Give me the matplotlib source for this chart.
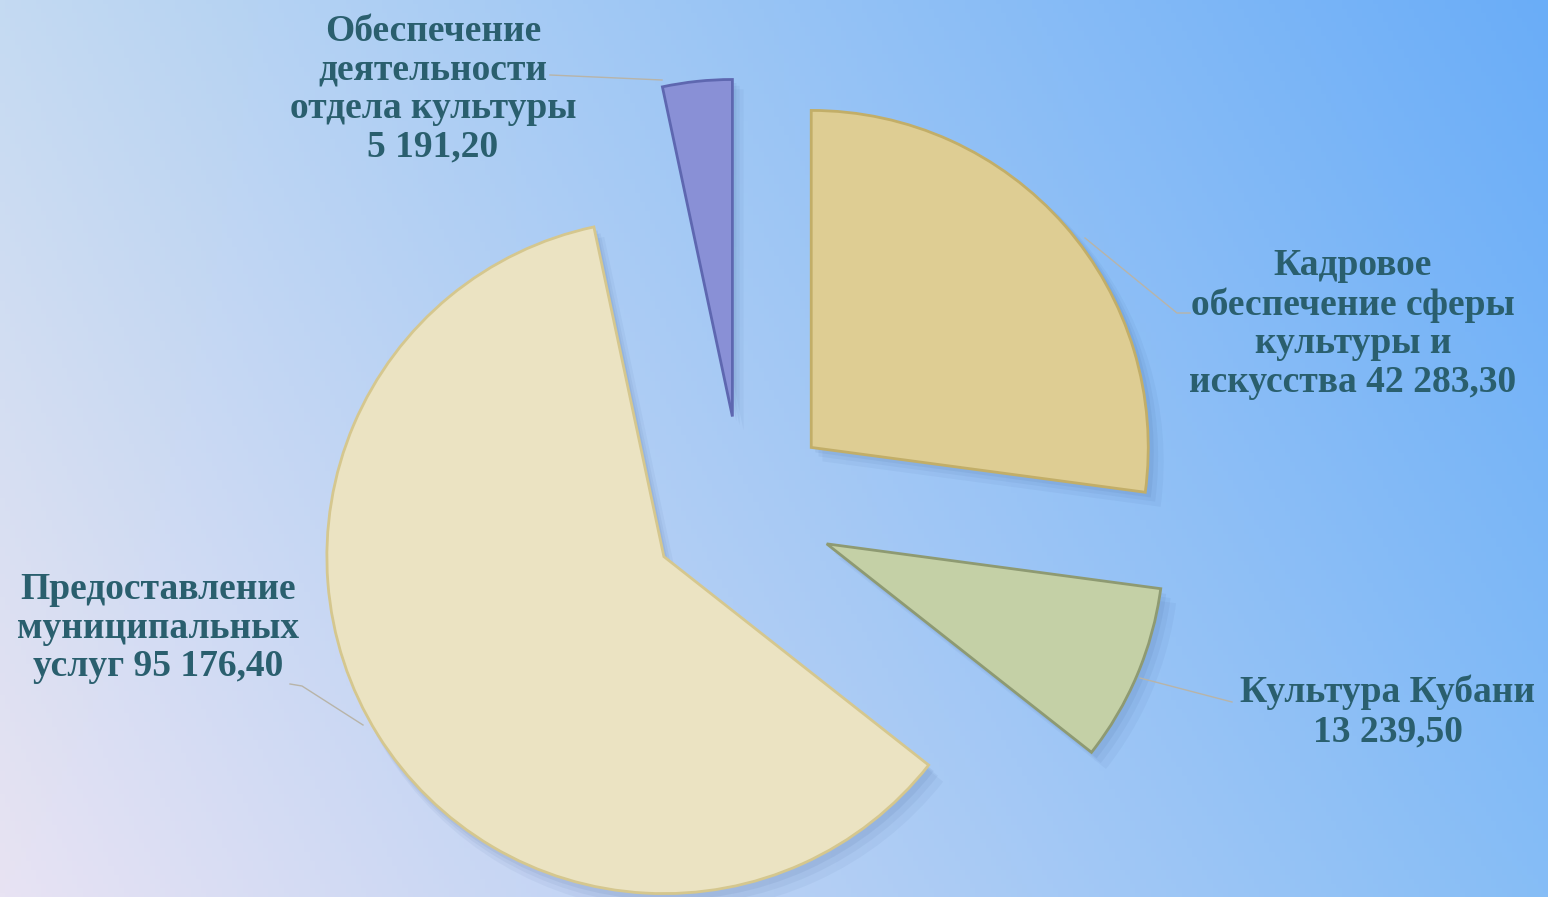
import numpy as np
import matplotlib.pyplot as plt
from matplotlib.colors import to_rgb

W, H = 1548, 897

# data: clockwise from 12 o'clock
names = ["Кадровое\nобеспечение сферы\nкультуры и\nискусства 42 283,30",
         "Культура Кубани\n13 239,50",
         "Предоставление\nмуниципальных\nуслуг 95 176,40",
         "Обеспечение\nдеятельности\nотдела культуры\n5 191,20"]
values = [42283.30, 13239.50, 95176.40, 5191.20]
colors = ["#DECD93", "#C4D0A6", "#EBE3C2", "#8990D6"]
edges = ["#C2AE68", "#8E9A72", "#D5C78E", "#5E67B0"]

fig = plt.figure(figsize=(W / 100, H / 100), dpi=100)
ax = fig.add_axes([0, 0, 1, 1])

# background gradient (bilinear between corner colours)
tl, tr = np.array(to_rgb("#C4DAF2")), np.array(to_rgb("#6AADF8"))
bl, br = np.array(to_rgb("#E8E3F3")), np.array(to_rgb("#86BDF6"))
u = np.linspace(0, 1, 300)[None, :, None]
v = np.linspace(0, 1, 200)[:, None, None]  # 0 = bottom
grad = (1 - v) * ((1 - u) * bl + u * br) + v * ((1 - u) * tl + u * tr)
ax.imshow(grad, extent=[0, W, 0, H], origin="lower", aspect="auto", zorder=0)

cx, cy, r = 742, H - 508, 337
# explode is in data units (pixels here)
expl = [92, 92, 92, 92]

# soft shadow
for k, a in [(14, 0.05), (9, 0.06), (5, 0.07)]:
    sh, _ = ax.pie(values, startangle=90, counterclock=False, explode=expl,
                   center=(cx + k * 0.8, cy - k), radius=r + k * 0.3,
                   colors=["#2A4A80"] * 4, wedgeprops=dict(linewidth=0))
    for w in sh:
        w.set_alpha(a)
        w.set_zorder(1)

wedges, _ = ax.pie(values, startangle=90, counterclock=False, explode=expl,
                   center=(cx, cy), radius=r, colors=colors,
                   wedgeprops=dict(linewidth=2))
for w, ec in zip(wedges, edges):
    w.set_edgecolor(ec)
    w.set_zorder(2)

ax.set_xlim(0, W)
ax.set_ylim(0, H)
ax.set_aspect("auto")
ax.axis("off")

txt = dict(ha="center", va="center", color="#2A5F6E", fontsize=27,
           fontweight="bold", family="Liberation Serif", linespacing=1.13, zorder=4)

label_pos = [(1353, H - 324), (1388, H - 712), (158, H - 628), (433, H - 89)]
for name, (x, y) in zip(names, label_pos):
    ax.text(x, y, name, **txt)

leaders = [
    [(1085, 238), (1177, 313), (1190, 313)],
    [(1140, 678), (1232, 702)],
    [(290, 684), (302, 686), (363, 725)],
    [(550, 75), (662, 80)],
]
for pts in leaders:
    xs = [p[0] for p in pts]
    ys = [H - p[1] for p in pts]
    ax.plot(xs, ys, color="#B8B4A8", lw=1, zorder=3)

fig.savefig("out.png", dpi=100)
